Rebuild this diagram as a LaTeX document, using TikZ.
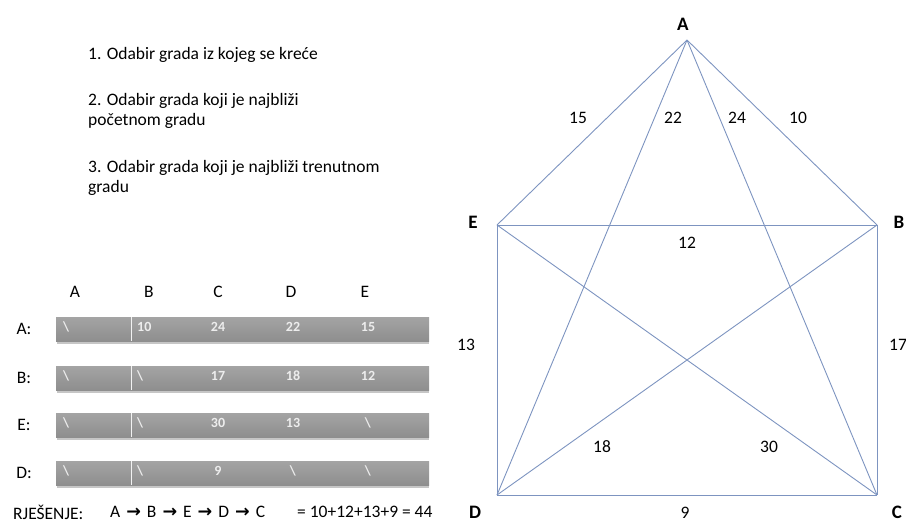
\documentclass[tikz,border=0pt]{standalone}
\usepackage{fontspec}
\setmainfont{Carlito}
\newfontfamily\symfont{DejaVu Sans}
\definecolor{lineblue}{HTML}{7D94C0}
\definecolor{bartop}{HTML}{A4A4A4}
\definecolor{barbot}{HTML}{8E8E8E}
\definecolor{bartext}{HTML}{EDEDED}
\newcommand{\arr}{\hspace{6pt}{\symfont\bfseries →}\hspace{6pt}}
\begin{document}
\begin{tikzpicture}[x=1pt,y=-1pt,
  txt/.style={anchor=base west,font=\fontsize{17.5}{20}\selectfont,inner sep=0pt},
  lbl/.style={font=\fontsize{17.5}{20}\selectfont,inner sep=0pt},
  vlbl/.style={font=\fontsize{19}{21}\selectfont\bfseries,inner sep=0pt},
  cell/.style={font=\fontsize{14}{15}\selectfont\bfseries,text=bartext,inner sep=0pt},
  edge/.style={draw=lineblue,line width=0.9pt}]
\useasboundingbox (0,0) rectangle (906,523);
% koraci
\node[txt] (k1) at (88,59) {1. Odabir grada iz kojeg se kreće};
\node[txt] (k2) at (88,105) {2. Odabir grada koji je najbliži};
\node[txt] (k2b) at (88,125) {početnom gradu};
\node[txt] (k3) at (88,172) {3. Odabir grada koji je najbliži trenutnom};
\node[txt] (k3b) at (88,192) {gradu};
% tablica
\node[lbl] (hA) at (75,292) {A};
\node[lbl] (hB) at (149,292) {B};
\node[lbl] (hC) at (218,292) {C};
\node[lbl] (hD) at (291,292) {D};
\node[lbl] (hE) at (365,292) {E};
\foreach \y/\r/\a/\b/\c/\d/\e in {329/A/\textbackslash/10/24/22/15,
    378/B/\textbackslash/\textbackslash/17/18/12,
    425/E/\textbackslash/\textbackslash/30/13/\textbackslash,
    473/D/\textbackslash/\textbackslash/9/\textbackslash/\textbackslash}{
  \node[lbl] (r\r) at (24,\y) {\r:};
  \draw[gray!45,line width=1.2pt] (57,\y+14) -- (429,\y+14);
  \shade[top color=bartop,bottom color=barbot] (56,\y-12) rectangle (429,\y+12);
  \draw[white!90!gray,line width=0.8pt] (131,\y-12) -- (131,\y+12);
  \node[cell,anchor=west] at (63,\y-2) {\a};
  \node[cell,anchor=west] at (137,\y-2) {\b};
  \node[cell] at (218,\y-2) {\c};
  \node[cell] at (293,\y-2) {\d};
  \node[cell] at (368,\y-2) {\e};
}
\node[lbl,anchor=west] (rj) at (13,512) {RJEŠENJE:};
\node[lbl,anchor=west] (put) at (110,512) {A\arr B\arr E\arr D\arr C};
\node[lbl,anchor=west] (zbroj) at (297,512) {= 10+12+13+9 = 44};
% graf
\coordinate (A) at (687,40);
\coordinate (E) at (497,225);
\coordinate (B) at (877,225);
\coordinate (D) at (497,495);
\coordinate (C) at (877,495);
\node[vlbl] (lA) at (683,24) {A};
\node[vlbl] (lE) at (473,222) {E};
\node[vlbl] (lB) at (899,222) {B};
\node[vlbl] (lD) at (475,512) {D};
\node[vlbl] (lC) at (897,512) {C};
\draw[edge] (A) -- (E);
\draw[edge] (A) -- (B);
\draw[edge] (A) -- (D);
\draw[edge] (A) -- (C);
\draw[edge] (E) -- (B);
\draw[edge] (E) -- (D);
\draw[edge] (E) -- (C);
\draw[edge] (B) -- (C);
\draw[edge] (B) -- (D);
\draw[edge] (D) -- (C);
\node[lbl] (wAE) at (578,118) {15};
\node[lbl] (wAD) at (673,118) {22};
\node[lbl] (wAC) at (737,118) {24};
\node[lbl] (wAB) at (798,118) {10};
\node[lbl] (wEB) at (687,243) {12};
\node[lbl] (wED) at (466,345) {13};
\node[lbl] (wBC) at (898,345) {17};
\node[lbl] (wBD) at (602,447) {18};
\node[lbl] (wEC) at (769,447) {30};
\node[lbl] (wDC) at (685,513) {9};
\end{tikzpicture}
\end{document}
